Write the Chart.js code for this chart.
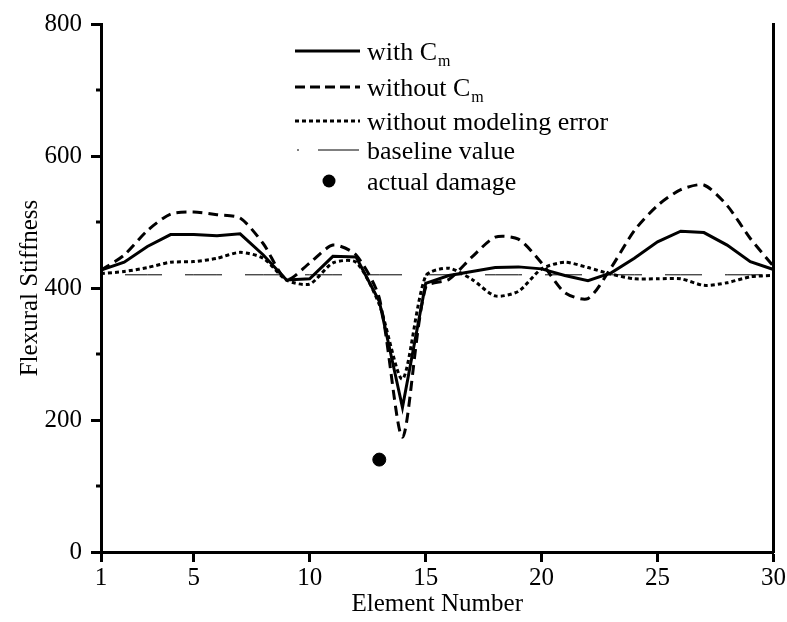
<!DOCTYPE html>
<html>
<head>
<meta charset="utf-8">
<script src="https://cdn.jsdelivr.net/npm/chart.js@4/dist/chart.umd.min.js"></script>
<style>
html,body{margin:0;padding:0;background:#fff;}
#wrap{width:787px;height:622px;}
</style>
</head>
<body>
<div id="wrap"><canvas id="c" width="787" height="622"></canvas></div>
<script>
const elements = [1,2,3,4,5,6,7,8,9,10,11,12,13,14,15,16,17,18,19,20,21,22,23,24,25,26,27,28,29,30];
const withCm = [427,439,463,481,481,479,482,450,412,414,448,447,380,219,407,419,425,431,432,429,419,411,423,445,470,486,484,465,440,428];
const withoutCm = [427,450,487,512,515,511,506,467,413,438,465,450,385,174,401,413,447,477,474,438,393,384,431,487,525,549,556,525,475,433];
const noModelErr = [422,425,431,439,440,445,454,445,412,406,438,439,375,262,418,430,413,388,395,429,439,431,421,414,414,414,404,408,417,419];
const baseline = [420,420,420,420,420,420,420,420,420,420,420,420,420,420,420,420,420,420,420,420,420,420,420,420,420,420,420,420,420,420];
const damageX = [13];
const damageY = [140];
const xTicks = [1,5,10,15,20,25,30];
const yMajor = [0,200,400,600,800];
const yMinor = [100,300,500,700];
const legendLabels = ['with C', 'without C', 'without modeling error', 'baseline value', 'actual damage'];

const FONT = 'Liberation Serif, Times New Roman, serif';
const pts = arr => elements.map((x,i)=>({x:x, y:arr[i]}));

const minorTicks = {
  id:'minorTicks',
  afterDraw(chart){
    const ctx = chart.ctx, y = chart.scales.y;
    ctx.save();
    ctx.strokeStyle = '#000'; ctx.lineWidth = 3;
    yMinor.forEach(v=>{
      const py = Math.round(y.getPixelForValue(v));
      ctx.beginPath(); ctx.moveTo(y.right-5, py); ctx.lineTo(y.right, py); ctx.stroke();
    });
    ctx.restore();
  }
};

const customLegend = {
  id:'customLegend',
  afterDraw(chart){
    const ctx = chart.ctx;
    const x0 = 295, x1 = 360, tx = 367;
    const rows = [51, 87, 121, 150, 181];
    ctx.save();
    ctx.strokeStyle = '#000'; ctx.fillStyle = '#000';
    ctx.lineWidth = 3; ctx.setLineDash([]);
    ctx.beginPath(); ctx.moveTo(x0, rows[0]); ctx.lineTo(x1, rows[0]); ctx.stroke();
    ctx.setLineDash([10,5]);
    ctx.beginPath(); ctx.moveTo(x0, rows[1]); ctx.lineTo(x1, rows[1]); ctx.stroke();
    ctx.setLineDash([4,3]);
    ctx.beginPath(); ctx.moveTo(x0, rows[2]); ctx.lineTo(x1, rows[2]); ctx.stroke();
    ctx.setLineDash([]); ctx.lineWidth = 1;
    ctx.beginPath(); ctx.moveTo(297, rows[3]); ctx.lineTo(299, rows[3]); ctx.stroke();
    ctx.beginPath(); ctx.moveTo(318, rows[3]); ctx.lineTo(359, rows[3]); ctx.stroke();
    ctx.beginPath(); ctx.arc(329, rows[4], 6.5, 0, Math.PI*2); ctx.fill();
    ctx.font = '26px ' + FONT;
    ctx.textBaseline = 'middle'; ctx.textAlign = 'left';
    for (let i=0;i<5;i++){
      ctx.fillText(legendLabels[i], tx, rows[i]+2);
      if (i<2){
        const w = ctx.measureText(legendLabels[i]).width;
        ctx.font = '16px ' + FONT;
        ctx.fillText('m', tx + w + 1, rows[i]+11);
        ctx.font = '26px ' + FONT;
      }
    }
    ctx.restore();
  }
};

new Chart(document.getElementById('c'), {
  type:'line',
  data:{
    datasets:[
      {label:'with Cm', data:pts(withCm), borderColor:'#000', borderWidth:3, pointRadius:0, tension:0, fill:false, order:1},
      {label:'without Cm', data:pts(withoutCm), borderColor:'#000', borderWidth:3, borderDash:[10,6], pointRadius:0, tension:0.25, fill:false, order:2},
      {label:'without modeling error', data:pts(noModelErr), borderColor:'#000', borderWidth:3, borderDash:[4,3], pointRadius:0, tension:0.25, fill:false, order:3},
      {label:'baseline value', data:pts(baseline), borderColor:'#000', borderWidth:1, borderDash:[37,23], borderDashOffset:36, pointRadius:0, tension:0, fill:false, order:4},
      {type:'scatter', label:'actual damage', data:damageX.map((x,i)=>({x:x,y:damageY[i]})), backgroundColor:'#000', borderColor:'#000', pointRadius:6.5, showLine:false, order:0}
    ]
  },
  options:{
    responsive:false, animation:false, devicePixelRatio:1,
    layout:{padding:{left:0, top:15, right:0, bottom:0}},
    plugins:{legend:{display:false}, tooltip:{enabled:false}},
    scales:{
      x:{
        type:'linear', min:1, max:30,
        afterBuildTicks(s){ s.ticks = xTicks.map(v=>({value:v})); },
        afterFit(s){ s.height = 70; },
        grid:{display:true, drawOnChartArea:false, drawTicks:true, tickLength:10, tickWidth:3, tickColor:'#000'},
        border:{display:true, color:'#000', width:3},
        ticks:{color:'#000', font:{family:FONT, size:25}, padding:1, maxRotation:0, autoSkip:false},
        title:{display:true, text:'Element Number', color:'#000', font:{family:FONT, size:25}, padding:{top:0,bottom:3}}
      },
      y:{
        type:'linear', position:'left', min:0, max:800,
        afterBuildTicks(s){ s.ticks = yMajor.map(v=>({value:v})); },
        afterFit(s){ s.width = 101; },
        grid:{display:true, drawOnChartArea:false, drawTicks:true, tickLength:10, tickWidth:3, tickColor:'#000'},
        border:{display:true, color:'#000', width:3},
        ticks:{color:'#000', font:{family:FONT, size:25}, padding:9},
        title:{display:true, text:'Flexural Stiffness', color:'#000', font:{family:FONT, size:25}, padding:{top:15,bottom:0}}
      },
      y2:{
        type:'linear', position:'right', min:0, max:800,
        afterFit(s){ s.width = 12; },
        grid:{display:false, drawOnChartArea:false, drawTicks:false},
        border:{display:true, color:'#000', width:3},
        ticks:{display:false}
      }
    }
  },
  plugins:[minorTicks, customLegend]
});
</script>
</body>
</html>
